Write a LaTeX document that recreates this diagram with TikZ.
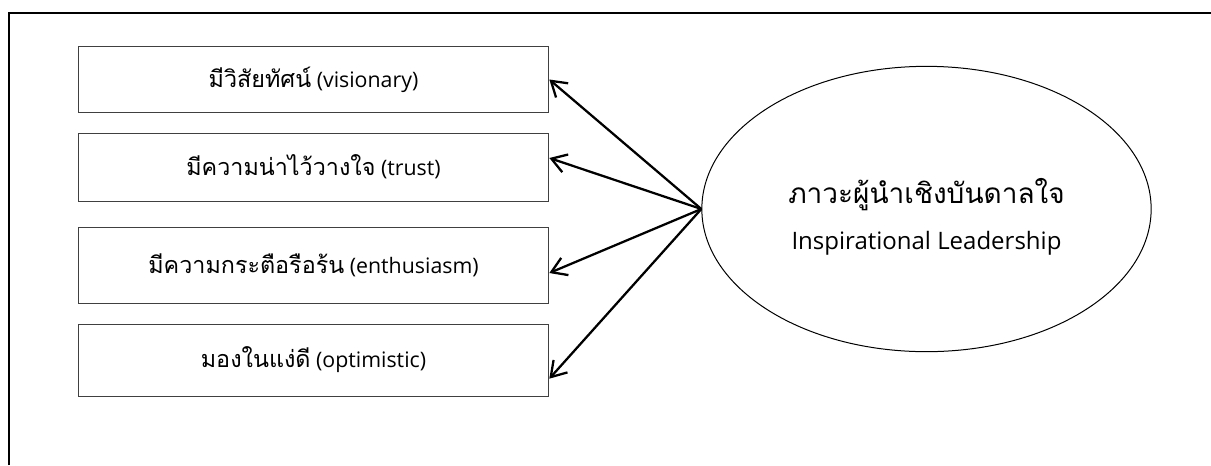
\documentclass[tikz,border=0pt]{standalone}
\usepackage{fontspec}
\setmainfont{Open Sans}
\newfontfamily\thaifont[Script=Thai]{Loma}
\usetikzlibrary{arrows.meta,shapes.geometric}

\tikzset{every picture/.style={line width=0.75pt}}
\tikzset{
  box/.style={draw=black!75, minimum width=353pt, inner sep=0pt,
                font=\fontsize{16}{18}\selectfont},
  trait/.style={ellipse, draw, minimum width=337pt, minimum height=214pt,
                inner sep=0pt},
  link/.style={line width=1.7pt, -{Straight Barb[length=11pt,width=14pt]}},
}
\newcommand{\thai}[1]{{\thaifont\fontsize{17.5}{18}\selectfont #1}}

\begin{document}
\begin{tikzpicture}[x=0.75pt,y=-0.75pt]
  \useasboundingbox (0,0) rectangle (1211,465);
  % frame | only top and left edge are seen
  \draw[line width=2.2pt] (9,465) -- (9,13) -- (1211,13);
  % the four boxes
  \foreach \name/\y/\h/\txt in {
      b1/79.5/49pt/{\thai{มีวิสัยทัศน์} (visionary)},
      b2/167/51pt/{\thai{มีความน่าไว้วางใจ} (trust)},
      b3/265/57pt/{\thai{มีความกระตือรือร้น} (enthusiasm)},
      b4/360/54pt/{\thai{มองในแง่ดี} (optimistic)}} {
    \node[box, minimum height=\h] (\name) at (313.5,\y) {\txt};
  };
  % the ellipse and its two lines
  \node[trait] (lead) at (926.5,209) {};
  \node[align=center] (leadtext) at ([yshift=-6pt]lead.center)
    {{\thaifont\fontsize{21}{26}\selectfont ภาวะผู้นำเชิงบันดาลใจ}\\[14pt]
     {\fontsize{18}{20}\selectfont Inspirational Leadership}};
  % arrows from the ellipse
  \foreach \name/\s in {b1/0pt, b2/6.75pt, b3/-6pt, b4/-14pt} {
    \draw[link] (lead.west) -- ([yshift=\s]\name.east);
  };
\end{tikzpicture}
\end{document}
